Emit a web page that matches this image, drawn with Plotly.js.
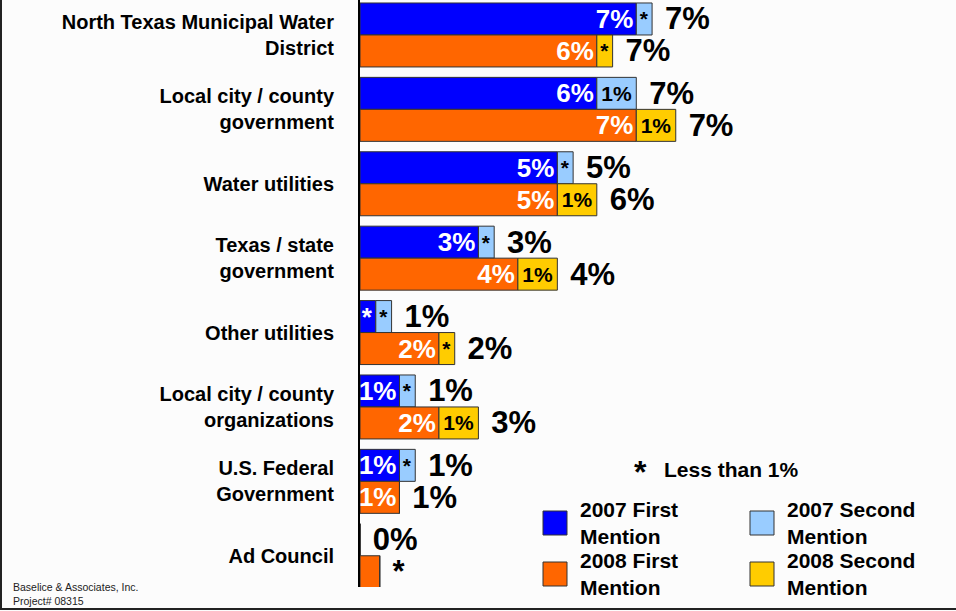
<!DOCTYPE html>
<html>
<head>
<meta charset="utf-8">
<script src="https://cdn.plot.ly/plotly-3.0.1.min.js"></script>
<style>
  html, body { margin: 0; padding: 0; background: #fcfcfc; }
  #chart { width: 956px; height: 611px; }
</style>
</head>
<body>
<div id="chart"></div>
<script>
// ---- data ----
const categories = [
  "North Texas Municipal Water<br>District",
  "Local city / county<br>government",
  "Water utilities",
  "Texas / state<br>government",
  "Other utilities",
  "Local city / county<br>organizations",
  "U.S. Federal<br>Government",
  "Ad Council"
];
const first2007  = [7, 6, 5, 3, 0.4, 1, 1, 0];
const second2007 = [0.4, 1, 0.4, 0.4, 0.4, 0.4, 0.4, 0];
const first2008  = [6, 7, 5, 4, 2, 2, 1, 0.5];
const second2008 = [0.4, 1, 1, 1, 0.4, 1, 0, 0];

const first2007Labels  = ["7%", "6%", "5%", "3%", "*", "1%", "1%", ""];
const second2007Labels = ["*", "1%", "*", "*", "*", "*", "*", ""];
const first2008Labels  = ["6%", "7%", "5%", "4%", "2%", "2%", "1%", ""];
const second2008Labels = ["*", "1%", "1%", "1%", "*", "1%", "", ""];
const total2007Labels  = ["7%", "7%", "5%", "3%", "1%", "1%", "1%", "0%"];
const total2008Labels  = ["7%", "7%", "6%", "4%", "2%", "3%", "1%", "*"];

const seriesNames  = ["2007 First Mention", "2007 Second Mention", "2008 First Mention", "2008 Second Mention"];
const seriesColors = ["#0000FF", "#99CCFF", "#FF6600", "#FFCC00"];
const noteText = "Less than 1%";
const footerLines = ["Baselice & Associates, Inc.", "Project# 08315"];

// ---- helpers ----
const FONT = "Liberation Sans, Arial, Helvetica, sans-serif";
const sumArr = (a, b) => a.map((v, i) => v + b[i]);
const end2007 = sumArr(first2007, second2007);
const end2008 = sumArr(first2008, second2008);
const labelGap = categories.map(() => 0.25);
const edge = { color: "#333333", width: 1 };

function segTrace(name, x, base, labels, color, group, textColor, textSize) {
  const t = {
    type: "bar", orientation: "h", name: name,
    y: categories, x: x, offsetgroup: group,
    text: labels, textposition: "inside", insidetextanchor: textColor === "#FFFFFF" ? "end" : "middle",
    constraintext: "none", cliponaxis: false,
    insidetextfont: { family: FONT, size: textSize, color: textColor, weight: "bold" },
    marker: { color: color, line: edge },
    hoverinfo: "skip", showlegend: false
  };
  if (base) t.base = base;
  return t;
}
function totalTrace(base, labels, group) {
  return {
    type: "bar", orientation: "h", y: categories, x: labelGap, base: base,
    offsetgroup: group, text: labels, textposition: "outside",
    constraintext: "none", cliponaxis: false,
    outsidetextfont: { family: FONT, size: 31, color: "#000000", weight: "bold" },
    marker: { color: "rgba(0,0,0,0)", line: { width: 0 } },
    hoverinfo: "skip", showlegend: false
  };
}

const data = [
  segTrace(seriesNames[0], first2007, null, first2007Labels, seriesColors[0], "y2007", "#FFFFFF", 26),
  segTrace(seriesNames[1], second2007, first2007, second2007Labels, seriesColors[1], "y2007", "#000000", 21),
  totalTrace(end2007, total2007Labels, "y2007"),
  segTrace(seriesNames[2], first2008, null, first2008Labels, seriesColors[2], "y2008", "#FFFFFF", 26),
  segTrace(seriesNames[3], second2008, first2008, second2008Labels, seriesColors[3], "y2008", "#000000", 21),
  totalTrace(end2008, total2008Labels, "y2008")
];

// pixel -> paper helpers (plot area: x 360..956, y 0..587)
const PL = 360, PW = 596, PT = 0, PH = 587;
const px = v => (v - PL) / PW;
const py = v => 1 - (v - PT) / PH;

const shapes = [];
const annotations = [];

// frame lines (left and bottom)
shapes.push({ type: "line", xref: "paper", yref: "paper", x0: px(1), x1: px(1), y0: py(0), y1: py(609), line: { color: "#222", width: 2 } });
shapes.push({ type: "line", xref: "paper", yref: "paper", x0: px(0), x1: px(956), y0: py(609), y1: py(609), line: { color: "#222", width: 2 } });

// legend (2x2)
const colX = [543, 750], rowY = [511, 562];
seriesNames.forEach((n, i) => {
  const c = i % 2, r = Math.floor(i / 2);
  shapes.push({ type: "rect", xref: "paper", yref: "paper",
    x0: px(colX[c]), x1: px(colX[c] + 24), y0: py(rowY[r]), y1: py(rowY[r] + 24),
    fillcolor: seriesColors[i], line: { color: "#333", width: 1 } });
  const parts = n.split(" ");
  annotations.push({ xref: "paper", yref: "paper", x: px(colX[c] + 35), y: py(rowY[r] + 12),
    xanchor: "left", yanchor: "middle", align: "left", showarrow: false,
    text: parts.slice(0, 2).join(" ") + "<br>" + parts.slice(2).join(" "),
    font: { family: FONT, size: 21, color: "#000", weight: "bold" } });
});

// note
annotations.push({ xref: "paper", yref: "paper", x: px(640), y: py(472), xanchor: "center", yanchor: "middle",
  showarrow: false, text: "*", font: { family: FONT, size: 32, color: "#000", weight: "bold" } });
annotations.push({ xref: "paper", yref: "paper", x: px(662), y: py(469), xanchor: "left", yanchor: "middle",
  showarrow: false, text: noteText, font: { family: FONT, size: 21, color: "#000", weight: "bold" } });

// footer
annotations.push({ xref: "paper", yref: "paper", x: px(11), y: py(594), xanchor: "left", yanchor: "middle",
  align: "left", showarrow: false, text: footerLines.join("<br>"),
  font: { family: FONT, size: 10.5, color: "#222" } });

const layout = {
  width: 956, height: 611,
  paper_bgcolor: "#fcfcfc", plot_bgcolor: "rgba(0,0,0,0)",
  margin: { l: PL, r: 0, t: PT, b: 611 - PH, pad: 0 },
  barmode: "group", bargap: 0.14, bargroupgap: 0,
  showlegend: false,
  xaxis: { range: [0, 15.1], visible: false, fixedrange: true },
  yaxis: {
    autorange: false, range: [7.42, -0.47], type: "category",
    showline: true, linecolor: "#000", linewidth: 2, mirror: false,
    showgrid: false, zeroline: false, ticks: "", ticklabelstandoff: 20,
    tickfont: { family: FONT, size: 20, color: "#000", weight: "bold" },
    fixedrange: true
  },
  shapes: shapes,
  annotations: annotations
};

Plotly.newPlot("chart", data, layout, { displayModeBar: false, staticPlot: true });
</script>
</body>
</html>
